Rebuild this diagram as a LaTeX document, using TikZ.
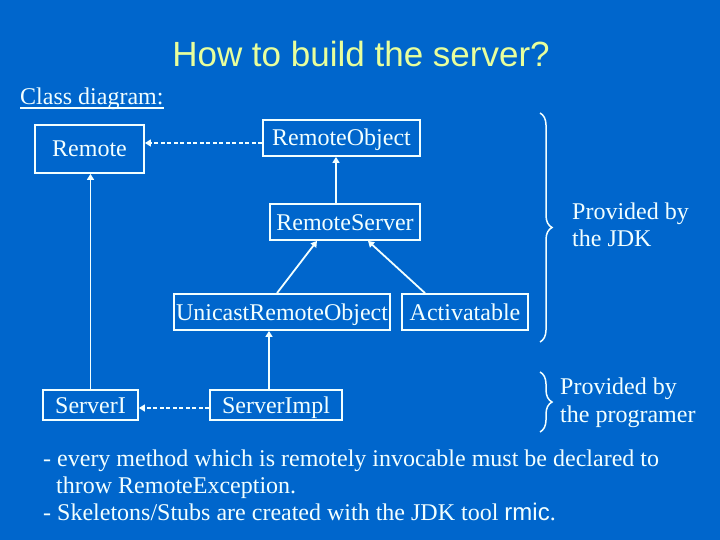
\documentclass[tikz,border=0pt]{standalone}
\usepackage{fontspec}
\setmainfont{Liberation Serif}
\setsansfont{Liberation Sans}
\usetikzlibrary{arrows.meta,decorations.pathreplacing}
\definecolor{slideblue}{HTML}{0066CC}
\definecolor{titleyellow}{HTML}{E8FF9C}
\definecolor{chalk}{HTML}{F2FFFF}
\newcommand{\slideul}[1]{\setbox0\hbox{#1}\rlap{\copy0}\rule[-3.75pt]{\wd0}{1.5pt}}
\begin{document}
\begin{tikzpicture}[x=1pt,y=-1pt,
        klass/.style={draw=chalk,line width=1.8pt,text=chalk,inner sep=0pt,text height=18pt,text depth=2pt,font=\fontsize{24}{28}\selectfont},
        txt/.style={text=chalk,inner sep=0pt,font=\fontsize{24}{28}\selectfont},
        generalise/.style={draw=chalk,line width=1.8pt,-{Triangle[length=6pt,width=7pt]}},
        realise/.style={generalise,dash pattern=on 4pt off 2.5pt},
        group/.style={draw=chalk,line width=1.5pt,decorate,decoration={brace,amplitude=12pt}}]
        \fill [slideblue] (0,0) rectangle (720,540);
        \useasboundingbox (0,0) rectangle (720,540);
        \node (title) [anchor=base,text=titleyellow,font=\sffamily\fontsize{35}{40}\selectfont] at (361,67) {How to build the server?};
        \node (classdiag) [txt,anchor=base west] at (20,105) {\slideul{Class diagram:}};
        \node (remote) [klass,minimum width=109pt,minimum height=48pt] at (89.5,149) {Remote};
        \node (robj) [klass,minimum width=157pt,minimum height=36pt] at (341.5,138) {RemoteObject};
        \node (rserv) [klass,minimum width=150pt,minimum height=36pt] at (345,222) {RemoteServer};
        \node (uro) [klass,minimum width=216pt,minimum height=36pt] at (282,312) {UnicastRemoteObject};
        \node (act) [klass,minimum width=126pt,minimum height=36pt] at (465,312) {Activatable};
        \node (servi) [klass,minimum width=95pt,minimum height=30pt] at (90.5,405) {ServerI};
        \node (simpl) [klass,minimum width=132pt,minimum height=30pt] at (276,405) {ServerImpl};
        \draw [realise] ([yshift=-5pt]robj.west) -- ([yshift=-5pt]robj.west -| remote.east);
        \draw [realise] ([yshift=-3pt]simpl.west) -- ([yshift=-3pt]simpl.west -| servi.east);
        \draw [generalise] (servi.north) -- (servi.north |- remote.south);
        \draw [generalise] ([xshift=-9pt]rserv.north) -- ([xshift=-9pt]rserv.north |- robj.south);
        \draw [generalise] ([xshift=-5pt]uro.north) -- ([xshift=-28pt]rserv.south);
        \draw [generalise] ([xshift=-40pt]act.north) -- ([xshift=23pt]rserv.south);
        \draw [generalise] ([xshift=-7pt]simpl.north) -- ([xshift=-7pt]simpl.north |- uro.south);
        \coordinate (jdktop) at (540,113);
        \coordinate (jdkbot) at (540,342);
        \draw [group] (jdktop) -- (jdkbot);
        \node (jdk) [txt,anchor=base west,align=left] at (572,247) {Provided by\\the JDK};
        \coordinate (progtop) at (540,372);
        \coordinate (progbot) at (540,432);
        \draw [group] (progtop) -- (progbot);
        \node (prog) [txt,anchor=base west,align=left] at (560,422) {Provided by\\the programer};
        \node (note) [txt,anchor=base west,align=left,font=\fontsize{24}{27}\selectfont] at (43,520) {- every method which is remotely invocable must be declared to\\\hspace*{13pt}throw RemoteException.\\- Skeletons/Stubs are created with the JDK tool {\sffamily rmic}.};
    \end{tikzpicture}
\end{document}
